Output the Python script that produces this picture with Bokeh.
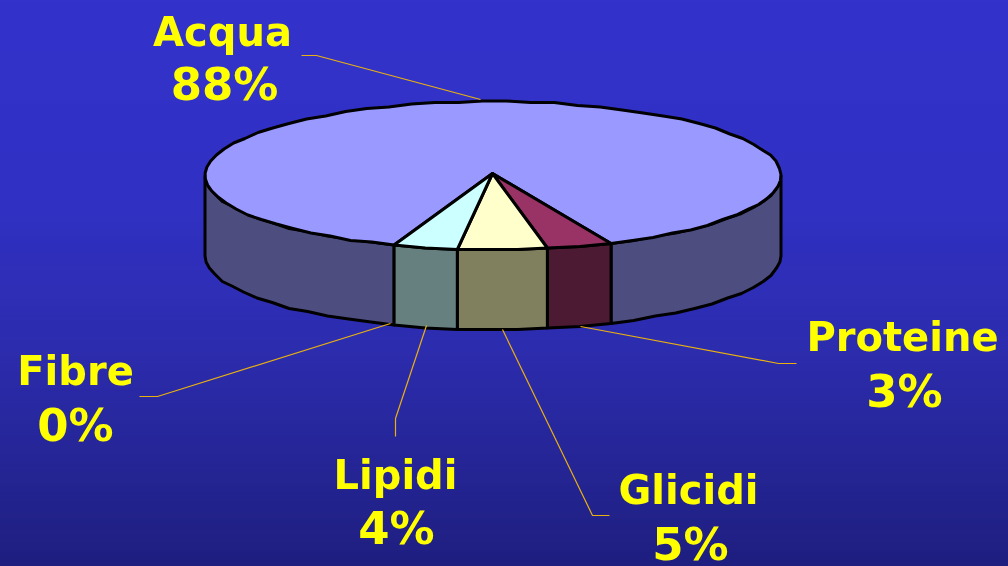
import numpy as np
from bokeh.plotting import figure
from bokeh.embed import file_html
from bokeh.resources import INLINE
from bokeh.core.properties import value

# Data
names = ["Acqua", "Proteine", "Glicidi", "Lipidi", "Fibre"]
pct_labels = ["88%", "3%", "5%", "4%", "0%"]
shares = [87.7, 3.7, 5.0, 3.6, 0.0]          # share of the rim each slice occupies
top_colors = ["#9999ff", "#993366", "#ffffcc", "#ccffff", "#660066"]
side_colors = ["#4d4d80", "#4d1a33", "#80805f", "#668080", "#330033"]

# Layout (pixels of the window)
W, H = 1008, 566
CX, CY, RX, RY, DEPTH = 492.5, 175.0, 288.0, 74.0, 80.0
APEX = (492.0, 173.0)
FIRST_BOUNDARY_DEG = 24.2  # the Proteine/Acqua edge, measured from straight down
name_xy = [(222, 31), (902, 336), (688, 489), (395, 474), (75, 370)]
pct_xy = [(224, 84), (904, 391), (690, 544), (396, 528), (75, 425)]
leaders = [
    ([301, 316, 480], [55, 55, 99]),
    ([580, 778, 796], [326, 363, 363]),
    ([502, 592, 609], [329, 515, 515]),
    ([426, 395, 395], [325, 418, 436]),
    ([390, 157, 139], [323, 396, 396]),
]
bg_stops_y = [0, 200, 340, 566]
bg_stops_rgb = [(51, 51, 204), (49, 49, 196), (45, 45, 176), (31, 31, 128)]

p = figure(width=W + 1, height=H + 1, x_range=(-1, W), y_range=(H, -1), toolbar_location=None,
           output_backend="svg", min_border=0, outline_line_color=None,
           x_axis_type=None, y_axis_type=None, background_fill_color="#3333cc",
           border_fill_color="#3333cc")
p.grid.visible = False
p.styles = {"position": "fixed", "left": "-1px", "top": "-1px"}

# Background gradient as horizontal strips
tops = np.arange(-2, H, 2)
cols = ["#%02x%02x%02x" % tuple(int(np.interp(t + 1, bg_stops_y, [s[c] for s in bg_stops_rgb])) for c in range(3))
        for t in tops]
p.quad(left=-3, right=W + 2, top=tops, bottom=tops + 3, fill_color=cols, line_color=None)


def rim(a, b, n_per_turn=76):
    """Points of the rim from angle a to b (degrees, 0 = front, positive = to the right)."""
    n = max(2, int(abs(b - a) / 360 * n_per_turn) + 1)
    t = np.radians(np.linspace(a, b, n))
    return CX + RX * np.sin(t), np.round((CY + RY * np.cos(t)) / 1.5) * 1.5


# Boundaries of the slices, from Acqua's edge through the front slices
bounds = [FIRST_BOUNDARY_DEG]
for s in shares[1:]:
    bounds.append(bounds[-1] - s / 100 * 360)

LINE = dict(line_color="black", line_width=3, line_join="round")

# Walls: left part, right part, front slices
xl, yl = rim(-90, bounds[-1])
p.patch(np.r_[xl, xl[::-1]], np.r_[yl, yl[::-1] + DEPTH], fill_color=side_colors[0], **LINE)
xr, yr = rim(bounds[0], 90)
p.patch(np.r_[xr, xr[::-1]], np.r_[yr, yr[::-1] + DEPTH], fill_color=side_colors[0], **LINE)
for i in range(1, 4):
    x, y = rim(bounds[i - 1], bounds[i])
    p.patch(np.r_[x, x[::-1]], np.r_[y, y[::-1] + DEPTH], fill_color=side_colors[i], **LINE)

# Top faces
x, y = rim(bounds[0], bounds[-1] + 360)
p.patch(np.r_[APEX[0], x], np.r_[APEX[1], y], fill_color=top_colors[0], **LINE)
for i in range(1, 4):
    x, y = rim(bounds[i - 1], bounds[i])
    p.patch(np.r_[APEX[0], x], np.r_[APEX[1], y], fill_color=top_colors[i], **LINE)

# Leader lines
for lx, ly in leaders:
    p.line(lx, ly, line_color="#eab010", line_width=1.2)

# Labels
font = dict(text_font=value("DejaVu Sans"), text_font_style="bold",
            text_color="#ffff00", text_align="center", text_baseline="alphabetic")
p.text([q[0] for q in name_xy], [q[1] for q in name_xy], text=names, text_font_size="40px", **font)
p.text([q[0] for q in pct_xy], [q[1] for q in pct_xy], text=pct_labels, text_font_size="45px", **font)

open("out.html", "w").write(file_html(p, INLINE))
